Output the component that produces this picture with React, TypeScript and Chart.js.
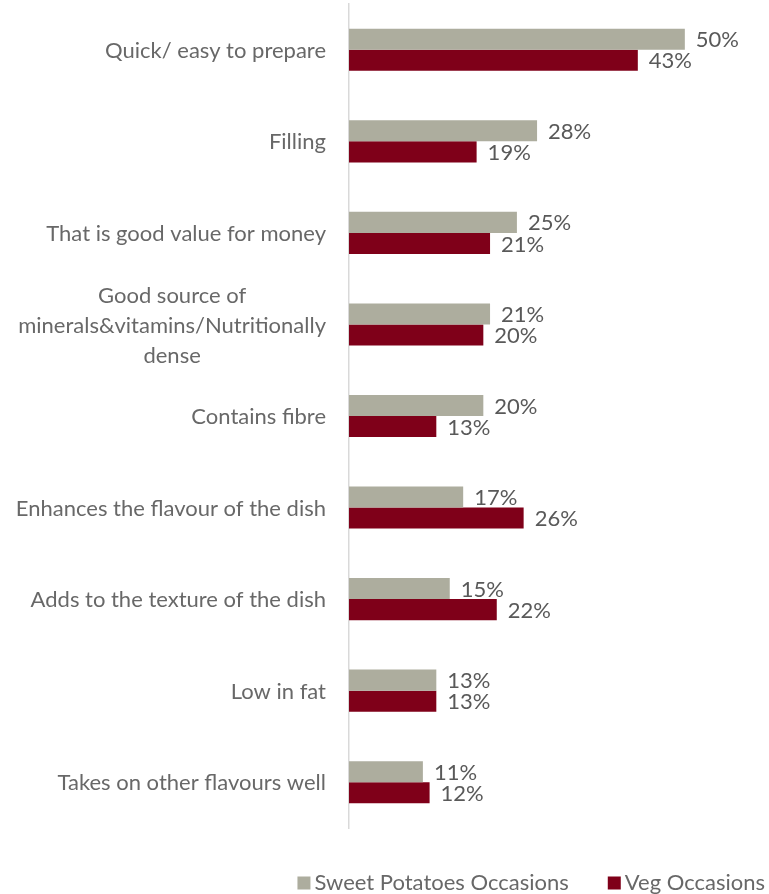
import React, { useEffect, useRef } from "react";
import { Chart, registerables } from "chart.js";

Chart.register(...registerables);

const categories: string[][] = [
  ["Quick/ easy to prepare"],
  ["Filling"],
  ["That is good value for money"],
  ["Good source of", "minerals&vitamins/Nutritionally", "dense"],
  ["Contains fibre"],
  ["Enhances the flavour of the dish"],
  ["Adds to the texture of the dish"],
  ["Low in fat"],
  ["Takes on other flavours well"],
];
const sweetPotatoes: number[] = [50, 28, 25, 21, 20, 17, 15, 13, 11];
const vegOccasions: number[] = [43, 19, 21, 20, 13, 26, 22, 13, 12];
const seriesNames: string[] = ["Sweet Potatoes Occasions", "Veg Occasions"];
const seriesColors: string[] = ["#ADAD9E", "#7F0019"];

const FONT = "Lato, 'Open Sans', sans-serif";
const TEXT = "#595959";
const LABEL_TEXT = "#686868";

const drawPlugin = {
  id: "customText",
  afterDatasetsDraw(chart: any) {
    const ctx = chart.ctx;
    ctx.save();
    ctx.fillStyle = TEXT;
    ctx.textBaseline = "middle";
    // value labels
    ctx.font = `22px ${FONT}`;
    ctx.textAlign = "left";
    chart.data.datasets.forEach((ds: any, i: number) => {
      const meta = chart.getDatasetMeta(i);
      meta.data.forEach((bar: any, j: number) => {
        ctx.fillText(ds.data[j] + "%", bar.x + 11, bar.y + 1);
      });
    });
    // category labels
    const ys = chart.scales.y;
    const right = chart.chartArea.left - 23;
    ctx.fillStyle = LABEL_TEXT;
    ctx.font = `22px ${FONT}`;
    ctx.textAlign = "center";
    const lh = 30;
    categories.forEach((lines, i) => {
      const cy = ys.getPixelForValue(i);
      const maxW = Math.max(...lines.map((l) => ctx.measureText(l).width));
      const cx = right - maxW / 2;
      const start = cy - ((lines.length - 1) * lh) / 2;
      lines.forEach((l, k) => ctx.fillText(l, cx, start + k * lh + 1));
    });
    // legend
    ctx.font = `22px ${FONT}`;
    ctx.textAlign = "left";
    const box = 13;
    const gap = 4;
    const between = 39;
    let x = 765;
    const ly = 883;
    const widths = seriesNames.map((n) => ctx.measureText(n).width);
    const positions: number[] = [];
    for (let i = seriesNames.length - 1; i >= 0; i--) {
      x -= widths[i];
      positions[i] = x;
      x -= gap + box;
      if (i > 0) x -= between;
    }
    seriesNames.forEach((n, i) => {
      const tx = positions[i];
      ctx.fillStyle = seriesColors[i];
      ctx.fillRect(tx - gap - box, ly - box / 2, box, box);
      ctx.fillStyle = LABEL_TEXT;
      ctx.fillText(n, tx, ly);
    });
    ctx.restore();
  },
};

export default function App() {
  const ref = useRef<HTMLCanvasElement | null>(null);
  useEffect(() => {
    if (!ref.current) return;
    const chart = new Chart(ref.current, {
      type: "bar",
      data: {
        labels: categories.map((c) => c.join(" ")),
        datasets: [
          {
            label: seriesNames[0],
            data: sweetPotatoes,
            backgroundColor: seriesColors[0],
            categoryPercentage: 0.46,
            barPercentage: 1,
          },
          {
            label: seriesNames[1],
            data: vegOccasions,
            backgroundColor: seriesColors[1],
            categoryPercentage: 0.46,
            barPercentage: 1,
          },
        ],
      },
      options: {
        indexAxis: "y",
        animation: false,
        responsive: false,
        layout: { padding: { top: 4, bottom: 66, right: 17, left: 0 } },
        plugins: { legend: { display: false }, tooltip: { enabled: false } },
        scales: {
          x: { display: false, min: 0, max: 60 },
          y: {
            grid: { display: false },
            ticks: { display: false },
            border: { display: true, color: "#D9D9D9", width: 1.5 },
            afterFit: (s: any) => {
              s.width = 349;
            },
          },
        },
      },
      plugins: [drawPlugin],
    });
    return () => chart.destroy();
  }, []);
  return (
    <canvas
      ref={ref}
      width={769}
      height={894}
      style={{ position: "fixed", left: 0, top: 0, width: 769, height: 894 }}
    />
  );
}
